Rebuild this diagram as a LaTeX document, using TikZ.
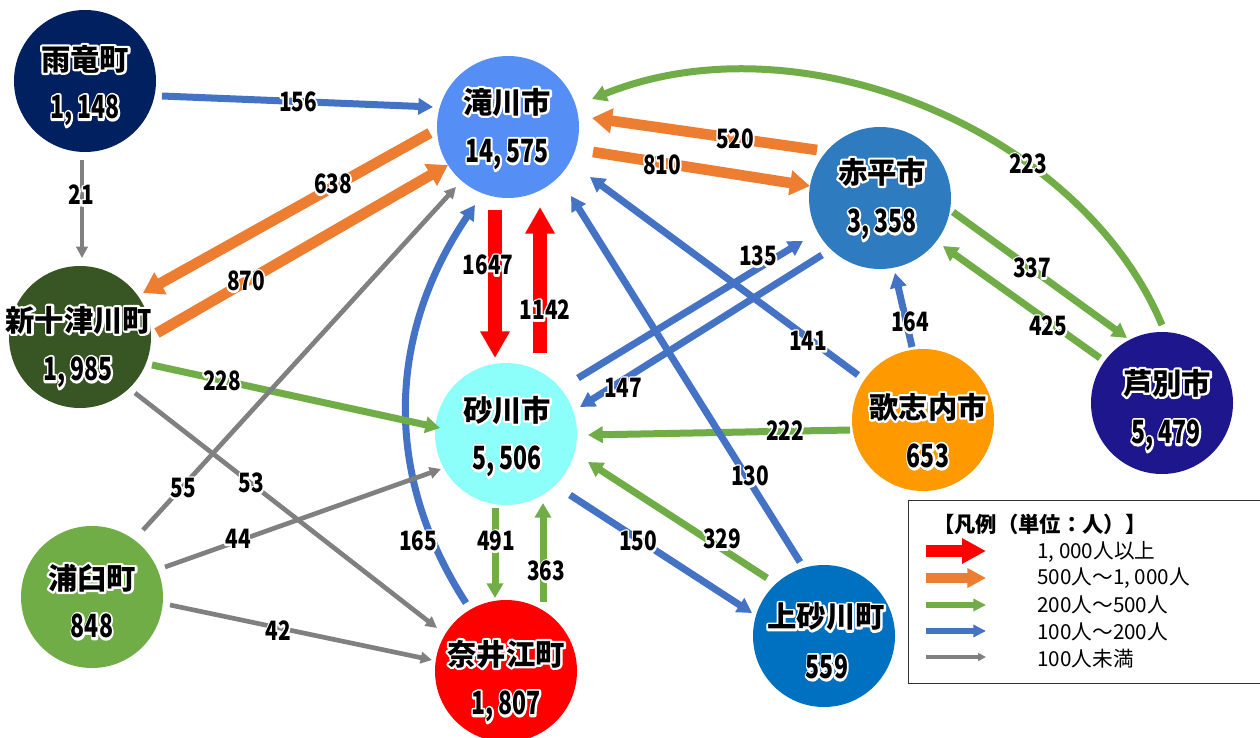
\documentclass[tikz,border=0pt]{standalone}
\usepackage{fontspec}
\setmainfont{Noto Sans CJK JP}
\newfontfamily\halofont{Noto Sans CJK JP}[FakeBold=15, BoldFeatures={FakeBold=15}]
\usepackage{graphicx}
\usetikzlibrary{arrows.meta,calc}
\definecolor{cBlue}{HTML}{4472C4}
\definecolor{cGreen}{HTML}{70AD47}
\definecolor{cGray}{HTML}{808080}
\definecolor{cOrange}{HTML}{ED7D31}
\definecolor{cRed}{HTML}{FF0000}
\definecolor{fUryu}{HTML}{002060}
\definecolor{fTaki}{HTML}{558EF5}
\definecolor{fAka}{HTML}{2E7BC0}
\definecolor{fShin}{HTML}{375623}
\definecolor{fSuna}{HTML}{8CFFFA}
\definecolor{fUta}{HTML}{FF9900}
\definecolor{fAshi}{HTML}{1E168C}
\definecolor{fUra}{HTML}{70AD47}
\definecolor{fNai}{HTML}{FF0000}
\definecolor{fKami}{HTML}{0070C0}
\newcommand\cma{,\kern0.22em}
\newcommand\halo[1]{\leavevmode\rlap{\halofont\color{white}#1}#1}
\newcommand\hname[1]{\halo{#1}}
\newcommand\hnum[1]{\halo{\scalebox{0.72}[1]{#1}}}
\newcommand\hlab[1]{\halo{\scalebox{0.78}[1]{#1}}}
\tikzset{
  city/.style={circle, minimum size=106.5pt, inner sep=0pt, draw=none},
  txt/.style={inner sep=0pt, line join=round},
  nmtxt/.style={txt, font=\fontsize{22}{24}\selectfont\bfseries},
  numtxt/.style={txt, font=\fontsize{24}{26}\selectfont\bfseries, text depth=0pt},
  lbl/.style={txt, font=\fontsize{20}{22}\selectfont\bfseries, text depth=0pt},
  legtxt/.style={font=\fontsize{15.5}{17}\selectfont, inner sep=0pt, anchor=west},
  legtitle/.style={font=\fontsize{16}{18}\selectfont\bfseries, inner sep=0pt, anchor=west},
  ablue/.style={draw=cBlue, line width=5.25pt, -{Triangle[width=12pt,length=11pt]}},
  agreen/.style={draw=cGreen, line width=5.25pt, -{Triangle[width=12pt,length=11pt]}},
  agray/.style={draw=cGray, line width=3.5pt, -{Triangle[width=8.5pt,length=8.5pt]}},
  aorange/.style={draw=cOrange, line width=8pt, -{Triangle[width=18pt,length=15pt]}},
  ared/.style={draw=cRed, line width=10.5pt, -{Triangle[width=21pt,length=20pt]}},
}
\begin{document}
\begin{tikzpicture}[x=0.75pt, y=-0.75pt]
\useasboundingbox (0,0) rectangle (1260,738);
\clip (0,0) rectangle (1260,738);
\fill[white] (0,0) rectangle (1260,738);

% circles
\node[city, fill=fUryu] (ur) at (85,81) {};
\node[city, fill=fTaki] (tk) at (508,127) {};
\node[city, fill=fAka]  (ak) at (880,198) {};
\node[city, fill=fShin] (sj) at (80,337) {};
\node[city, fill=fSuna] (sg) at (506,434) {};
\node[city, fill=fUta]  (us) at (923,420) {};
\node[city, fill=fAshi] (as) at (1162,403) {};
\node[city, fill=fUra]  (uu) at (92,597) {};
\node[city, fill=fNai]  (ne) at (506,671) {};
\node[city, fill=fKami] (ks) at (824,636) {};

% connectors
\draw[ablue]   ($(ur)+(77,15)$) -- ($(tk)+(-75,-20)$);
\draw[agray]   ($(ur)+(-3,79)$) -- ($(sj)+(2,-79)$);
\draw[aorange] ($(tk)+(-78,6)$) -- ($(sj)+(63,-44)$);
\draw[aorange] ($(sj)+(77,-4)$) -- ($(tk)+(-60,38)$);
\draw[ared]    ($(tk)+(-13,83)$) -- ($(sg)+(-11,-76)$);
\draw[ared]    ($(sg)+(34,-81)$) -- ($(tk)+(32,80)$);
\draw[aorange] ($(ak)+(-63,-48)$) -- ($(tk)+(84,-9)$);
\draw[aorange] ($(tk)+(85,25)$) -- ($(ak)+(-70,-12)$);
\draw[agreen]  ($(as)+(0,-78)$) .. controls (1080,130) and (800,15) .. ($(tk)+(84,-28)$);
\draw[agreen]  ($(ak)+(73,14)$) -- ($(as)+(-35,-65)$);
\draw[agreen]  ($(as)+(-62,-45)$) -- ($(ak)+(63,48)$);
\draw[ablue]   ($(us)+(-11,-73)$) -- ($(ak)+(15,75)$);
\draw[ablue]   ($(us)+(-65,-45)$) -- ($(tk)+(82,50)$);
\draw[ablue]   ($(sg)+(72,-56)$) -- ($(ak)+(-77,43)$);
\draw[ablue]   ($(ak)+(-58,57)$) -- ($(sg)+(74,-27)$);
\draw[agreen]  ($(us)+(-73,10)$) -- ($(sg)+(82,1)$);
\draw[ablue]   ($(ks)+(-24,-74)$) -- ($(tk)+(63,69)$);
\draw[agreen]  ($(ks)+(-57,-58)$) -- ($(sg)+(82,28)$);
\draw[ablue]   ($(sg)+(64,61)$) -- ($(ks)+(-72,-23)$);
\draw[agreen]  ($(sg)+(-11,74)$) -- ($(ne)+(-11,-73)$);
\draw[agreen]  ($(ne)+(37,-69)$) -- ($(sg)+(37,69)$);
\draw[ablue]   ($(ne)+(-40,-68)$) .. controls (380,470) and (390,330) .. ($(tk)+(-33,78)$);
\draw[agreen]  ($(sj)+(72,28)$) -- ($(sg)+(-66,-6)$);
\draw[agray]   ($(sj)+(55,56)$) -- ($(ne)+(-69,-43)$);
\draw[agray]   ($(uu)+(51,-67)$) -- ($(tk)+(-52,60)$);
\draw[agray]   ($(uu)+(73,-30)$) -- ($(sg)+(-65,35)$);
\draw[agray]   ($(uu)+(78,8)$) -- ($(ne)+(-74,-11)$);

% connector labels
\node[lbl] (l156)  at (298,102) {\hlab{156}};
\node[lbl] (l21)   at (81,195)  {\hlab{21}};
\node[lbl] (l638)  at (333,184) {\hlab{638}};
\node[lbl] (l870)  at (246,281) {\hlab{870}};
\node[lbl] (l1647) at (488,265) {\hlab{1647}};
\node[lbl] (l1142) at (545,310) {\hlab{1142}};
\node[lbl] (l520)  at (735,139) {\hlab{520}};
\node[lbl] (l810)  at (662,165) {\hlab{810}};
\node[lbl] (l223)  at (1028,164) {\hlab{223}};
\node[lbl] (l337)  at (1032,268) {\hlab{337}};
\node[lbl] (l425)  at (1048,326) {\hlab{425}};
\node[lbl] (l164)  at (910,322) {\hlab{164}};
\node[lbl] (l141)  at (808,341) {\hlab{141}};
\node[lbl] (l135)  at (758,256) {\hlab{135}};
\node[lbl] (l147)  at (623,388) {\hlab{147}};
\node[lbl] (l222)  at (785,431) {\hlab{222}};
\node[lbl] (l130)  at (750,476) {\hlab{130}};
\node[lbl] (l329)  at (722,539) {\hlab{329}};
\node[lbl] (l150)  at (638,541) {\hlab{150}};
\node[lbl] (l491)  at (496,541) {\hlab{491}};
\node[lbl] (l363)  at (546,571) {\hlab{363}};
\node[lbl] (l165)  at (418,541) {\hlab{165}};
\node[lbl] (l228)  at (222,381) {\hlab{228}};
\node[lbl] (l53)   at (251,483) {\hlab{53}};
\node[lbl] (l55)   at (183,488) {\hlab{55}};
\node[lbl] (l44)   at (238,539) {\hlab{44}};
\node[lbl] (l42)   at (278,631) {\hlab{42}};

% city texts
\node[nmtxt]  (ur-n) at (85,59)   {\hname{雨竜町}};
\node[numtxt] (ur-v) at (85,107)  {\hnum{1\cma148}};
\node[nmtxt]  (tk-n) at (507,102) {\hname{滝川市}};
\node[numtxt] (tk-v) at (507,151) {\hnum{14\cma575}};
\node[nmtxt]  (ak-n) at (882,172) {\hname{赤平市}};
\node[numtxt] (ak-v) at (882,221) {\hnum{3\cma358}};
\node[nmtxt]  (sj-n) at (79,320)  {\hname{新十津川町}};
\node[numtxt] (sj-v) at (78,369)  {\hnum{1\cma985}};
\node[nmtxt]  (sg-n) at (507,410) {\hname{砂川市}};
\node[numtxt] (sg-v) at (507,458) {\hnum{5\cma506}};
\node[nmtxt]  (us-n) at (928,407) {\hname{歌志内市}};
\node[numtxt] (us-v) at (928,456) {\hnum{653}};
\node[nmtxt]  (as-n) at (1167,383) {\hname{芦別市}};
\node[numtxt] (as-v) at (1166,432) {\hnum{5\cma479}};
\node[nmtxt]  (uu-n) at (92,578)  {\hname{浦臼町}};
\node[numtxt] (uu-v) at (92,626)  {\hnum{848}};
\node[nmtxt]  (ne-n) at (506,654) {\hname{奈井江町}};
\node[numtxt] (ne-v) at (506,703) {\hnum{1\cma807}};
\node[nmtxt]  (ks-n) at (826,617) {\hname{上砂川町}};
\node[numtxt] (ks-v) at (827,667) {\hnum{559}};

% legend
\node[draw=black!80, line width=1pt, inner sep=0pt, minimum width=270pt, minimum height=137pt, anchor=north west] (leg) at (908,500) {};
\node[legtitle] (leg-t) at (933,524) {【凡例（単位：人）】};
\draw[draw=cRed, line width=9pt, -{Triangle[width=18pt,length=18pt]}] (926,551) -- (986,551);
\draw[draw=cOrange, line width=8pt, -{Triangle[width=14pt,length=14pt]}] (926,578) -- (986,578);
\draw[draw=cGreen, line width=5pt, -{Triangle[width=9pt,length=9.5pt]}] (926,605) -- (986,605);
\draw[draw=cBlue, line width=5pt, -{Triangle[width=9pt,length=9.5pt]}] (926,631) -- (986,631);
\draw[draw=cGray, line width=3pt, -{Triangle[width=6pt,length=6pt]}] (926,657) -- (986,657);
\node[legtxt] (leg-1) at (1037,552) {1\cma000人以上};
\node[legtxt] (leg-2) at (1037,578) {500人～1\cma000人};
\node[legtxt] (leg-3) at (1037,605) {200人～500人};
\node[legtxt] (leg-4) at (1037,632) {100人～200人};
\node[legtxt] (leg-5) at (1037,659) {100人未満};
\end{tikzpicture}
\end{document}
